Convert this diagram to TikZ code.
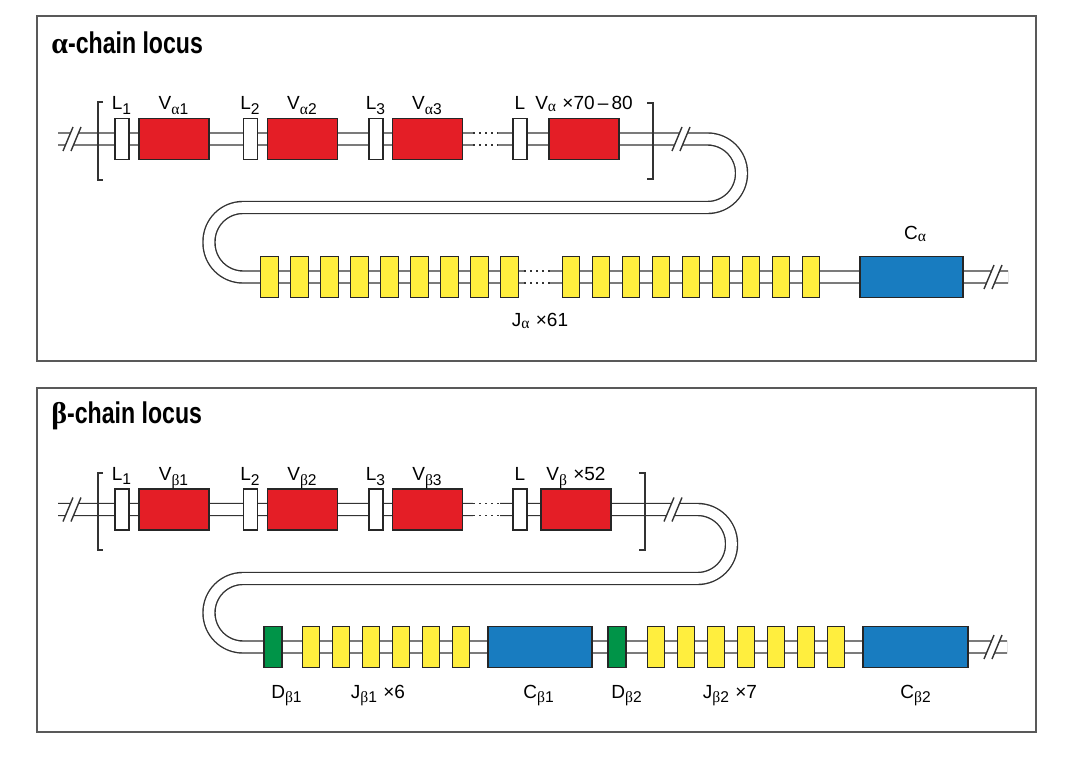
\documentclass[tikz,border=0pt]{standalone}
\usepackage{fontspec}
\setmainfont{Liberation Sans}
\newfontfamily\grfont{Liberation Serif}
\newfontfamily\ttlfont[FakeStretch=0.77]{Liberation Sans}
\usetikzlibrary{positioning}
\definecolor{vred}{RGB}{228,30,38}
\definecolor{jyel}{RGB}{255,238,62}
\definecolor{cblue}{RGB}{24,124,192}
\definecolor{dgrn}{RGB}{0,148,72}
\newcommand{\gra}{{\grfont α}}
\newcommand{\grb}{{\grfont β}}
\newcommand{\sbs}[1]{\textsubscript{\fontsize{7.8}{8}\selectfont #1}}
% break in the strand: white gap between two slashes
\newcommand{\brkmark}[1]{%
  \begin{scope}[shift={#1}]
    \fill[white] (-9,12) -- (1,-12) -- (9,-12) -- (-1,12) -- cycle;
    \draw[brk] (-9,12) -- (1,-12) (-1,12) -- (9,-12);
  \end{scope}}
% dotted stretch of the strand
\newcommand{\dotgap}[2]{%
  \begin{scope}[shift={#1}]
    \fill[white] (-#2,-8) rectangle (#2,8);
    \draw[gapdots] (-#2,-6) -- (#2,-6) (-#2,6) -- (#2,6);
  \end{scope}}
\begin{document}
\begin{tikzpicture}[x=0.5pt, y=-0.5pt, font=\fontsize{9.5}{11}\selectfont]
  \tikzset{seg/.style={draw=black!85, line width=0.6pt, minimum height=20.5pt, inner sep=0pt}}
  \tikzset{lbox/.style={seg, fill=white, minimum width=7pt}}
  \tikzset{vbox/.style={seg, fill=vred, minimum width=35pt}}
  \tikzset{jbox/.style={seg, fill=jyel, minimum width=8.75pt}}
  \tikzset{dbox/.style={seg, fill=dgrn, minimum width=9pt}}
  \tikzset{cbox/.style={seg, fill=cblue, minimum width=52pt}}
  \tikzset{strand/.style={draw=black!80, line width=0.7pt, double=white, double distance=5.3pt, rounded corners=17pt}}
  \tikzset{brk/.style={draw=black!80, line width=0.7pt}}
  \tikzset{gapdots/.style={draw=black!80, line width=0.7pt, dash pattern=on 0.8pt off 2.2pt}}
  \tikzset{frame/.style={draw=black!65, line width=1.1pt}}
  \tikzset{ttl/.style={font=\ttlfont\fontsize{15}{17}\selectfont\bfseries, anchor=base west, inner sep=0pt}}
  \tikzset{toplbl/.style={anchor=base, label distance=4pt, inner sep=0pt}}
  \tikzset{btm/.style={anchor=base, inner sep=0pt}}
  \useasboundingbox (0,0) rectangle (1080,758);

  % ---------- alpha-chain locus ----------
  \draw[frame] (37,16) rectangle (1036,361);
  \node[ttl] (ttlA) at (51,54) {{\grfont\bfseries α}-chain locus};
  % strand
  \coordinate (a0) at (58,139);
  \coordinate (aT) at (741.5,139);
  \coordinate (aU) at (741.5,207.5);
  \coordinate (aV) at (209,207.5);
  \coordinate (aW) at (209,277);
  \coordinate (a1) at (1008,277);
  \draw[strand] (a0) -- (aT) -- (aU) -- (aV) -- (aW) -- (a1);
  \dotgap{(485.5,139)}{12.5}
  \dotgap{(537,277)}{13}
  \brkmark{(72,139)}
  \brkmark{(681,139)}
  \brkmark{(993,277)}
  % brackets
  \draw[brk] (103,102) -- (98,102) -- (98,180) -- (103,180);
  \draw[brk] (647,103) -- (653,103) -- (653,179) -- (647,179);
  % V segments
  \node[lbox, label={[toplbl]above:L\sbs{1}}] (aL1) at (122,139) {};
  \node[vbox, label={[toplbl]above:V\sbs{\gra 1}}] (Va1) at (174,139) {};
  \node[lbox, label={[toplbl]above:L\sbs{2}}] (aL2) at (250.5,139) {};
  \node[vbox, label={[toplbl]above:V\sbs{\gra 2}}] (Va2) at (302.5,139) {};
  \node[lbox, label={[toplbl]above:L\sbs{3}}] (aL3) at (376,139) {};
  \node[vbox, label={[toplbl]above:V\sbs{\gra 3}}] (Va3) at (427.5,139) {};
  \node[lbox, label={[toplbl]above:L}] (aLn) at (520,139) {};
  \node[vbox, label={[toplbl]above:V\sbs{\gra}\ ×70\,–\,80}] (Van) at (584,139) {};
  % J segments
  \foreach \i in {0,...,8} \node[jbox] (Jaa\i) at ({269.5+30*\i},277) {};
  \foreach \i in {0,...,8} \node[jbox] (Jab\i) at ({571+30*\i},277) {};
  \node[btm] (JaLbl) at (540,327) {J\sbs{\gra}\ ×61};
  \node[cbox, minimum width=51.5pt, label={[toplbl, label distance=8pt, xshift=2pt]above:C\sbs{\gra}}] (Ca) at (911.5,277) {};

  % ---------- beta-chain locus ----------
  \draw[frame] (37,388) rectangle (1036,732);
  \node[ttl] (ttlB) at (51,423) {{\grfont\bfseries β}-chain locus};
  % strand
  \coordinate (b0) at (58,509.5);
  \coordinate (bT) at (731.5,509.5);
  \coordinate (bU) at (731.5,578.5);
  \coordinate (bV) at (209,578.5);
  \coordinate (bW) at (209,647);
  \coordinate (b1) at (1007,647);
  \draw[strand] (b0) -- (bT) -- (bU) -- (bV) -- (bW) -- (b1);
  \dotgap{(486.5,509.5)}{13.5}
  \brkmark{(72,509.5)}
  \brkmark{(673,509.5)}
  \brkmark{(993,647)}
  % brackets
  \draw[brk] (103,473) -- (98,473) -- (98,550) -- (103,550);
  \draw[brk] (639,473) -- (645,473) -- (645,550) -- (639,550);
  % V segments
  \node[lbox, label={[toplbl]above:L\sbs{1}}] (bL1) at (122,509.5) {};
  \node[vbox, label={[toplbl]above:V\sbs{\grb 1}}] (Vb1) at (174,509.5) {};
  \node[lbox, label={[toplbl]above:L\sbs{2}}] (bL2) at (250.5,509.5) {};
  \node[vbox, label={[toplbl]above:V\sbs{\grb 2}}] (Vb2) at (302.5,509.5) {};
  \node[lbox, label={[toplbl]above:L\sbs{3}}] (bL3) at (376,509.5) {};
  \node[vbox, label={[toplbl]above:V\sbs{\grb 3}}] (Vb3) at (427.5,509.5) {};
  \node[lbox, label={[toplbl]above:L}] (bLn) at (520,509.5) {};
  \node[vbox, label={[toplbl]above:V\sbs{\grb}\ ×52}] (Vbn) at (576,509.5) {};
  % D, J, C segments
  \node[dbox] (Db1) at (273,647) {};
  \foreach \i in {1,...,6} \node[jbox] (Jba\i) at ({281+30*\i},647) {};
  \node[cbox] (Cb1) at (540,647) {};
  \node[dbox] (Db2) at (617,647) {};
  \foreach \i in {1,...,7} \node[jbox] (Jbb\i) at ({626+30*\i},647) {};
  \node[cbox, minimum width=52.5pt] (Cb2) at (915.5,647) {};
  \node[btm] (Db1Lbl) at (287,698) {D\sbs{\grb 1}};
  \node[btm] (Jb1Lbl) at (378,698) {J\sbs{\grb 1}\ ×6};
  \node[btm] (Cb1Lbl) at (539,698) {C\sbs{\grb 1}};
  \node[btm] (Db2Lbl) at (627,698) {D\sbs{\grb 2}};
  \node[btm] (Jb2Lbl) at (730,698) {J\sbs{\grb 2}\ ×7};
  \node[btm] (Cb2Lbl) at (916,698) {C\sbs{\grb 2}};
\end{tikzpicture}
\end{document}
